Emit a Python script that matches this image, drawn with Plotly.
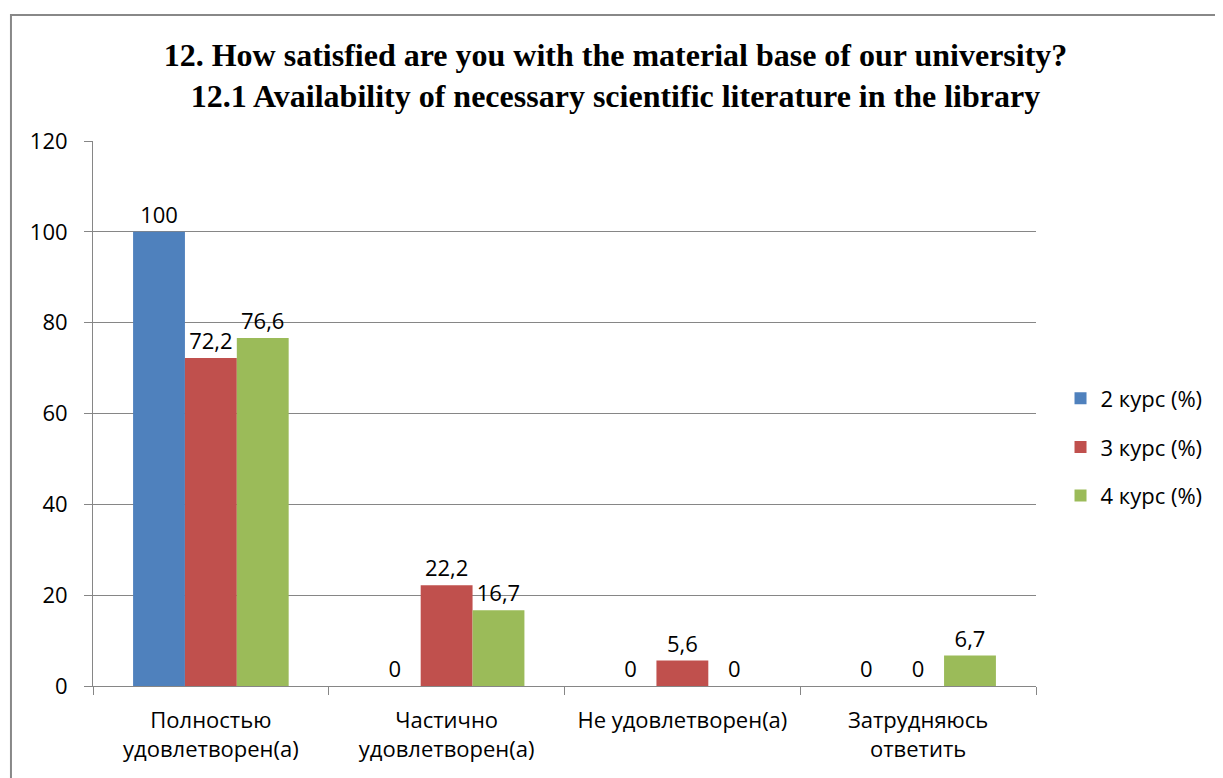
import plotly.graph_objects as go

categories = ["Полностью<br>удовлетворен(а)", "Частично<br>удовлетворен(а)",
              "Не удовлетворен(а)", "Затрудняюсь<br>ответить"]
series_names = ["2 курс (%)", "3 курс (%)", "4 курс (%)"]
kurs2 = [100, 0, 0, 0]
kurs3 = [72.2, 22.2, 5.6, 0]
kurs4 = [76.6, 16.7, 0, 6.7]
colors = ["#4f81bd", "#c0504d", "#9bbb59"]
y_ticks = [0, 20, 40, 60, 80, 100, 120]

FONT = "Open Sans"
FS = 22

fig = go.Figure()
for name, vals, col in zip(series_names, [kurs2, kurs3, kurs4], colors):
    fig.add_trace(go.Bar(
        x=categories, y=vals, name=name, legendgroup=name,
        marker=dict(color=col, line=dict(width=0)),
        text=[f"{v:g}".replace(".", ",") for v in vals],
        textposition="outside",
        textfont=dict(family=FONT, size=FS, color="#000000"),
        cliponaxis=False,
    ))

# page body adds 8px margin, so the figure is 8px smaller
fig.update_layout(
    width=1215, height=770,
    paper_bgcolor="white", plot_bgcolor="white",
    barmode="group", bargap=0.34, bargroupgap=0,
    title=dict(
        text="12. How satisfied are you with the material base of our university?<br>"
             "12.1 Availability of necessary scientific literature in the library",
        x=0.5, xanchor="center", y=0.925, yanchor="middle",
        font=dict(family="Liberation Serif", size=32, color="#000000", weight="bold"),
    ),
    margin=dict(l=85, r=187, t=133, b=92),
    showlegend=True,
    legend=dict(
        x=1.026, xanchor="left", y=0.4385, yanchor="middle",
        font=dict(family=FONT, size=FS, color="#000000"),
        tracegroupgap=17, itemwidth=30,
    ),
    xaxis=dict(
        tickson="boundaries", ticks="outside", ticklen=8, tickcolor="#868686",
        showline=True, linecolor="#868686", linewidth=1,
        showgrid=False,
        tickfont=dict(family=FONT, size=FS, color="#000000"),
        ticklabelstandoff=15,
    ),
    yaxis=dict(
        range=[0, 120], tickvals=y_ticks,
        ticks="outside", ticklen=8, tickcolor="#868686",
        showline=True, linecolor="#868686", linewidth=1,
        showgrid=True, gridcolor="#868686", gridwidth=1,
        zeroline=False,
        tickfont=dict(family=FONT, size=FS, color="#000000"),
        ticklabelstandoff=12,
    ),
    shapes=[dict(type="rect", xref="paper", yref="paper",
                 x0=-0.087, x1=1.3, y0=-0.3, y1=1.231,
                 line=dict(color="#888888", width=2), fillcolor="rgba(0,0,0,0)",
                 layer="below")],
)

fig.write_html("out.html")
